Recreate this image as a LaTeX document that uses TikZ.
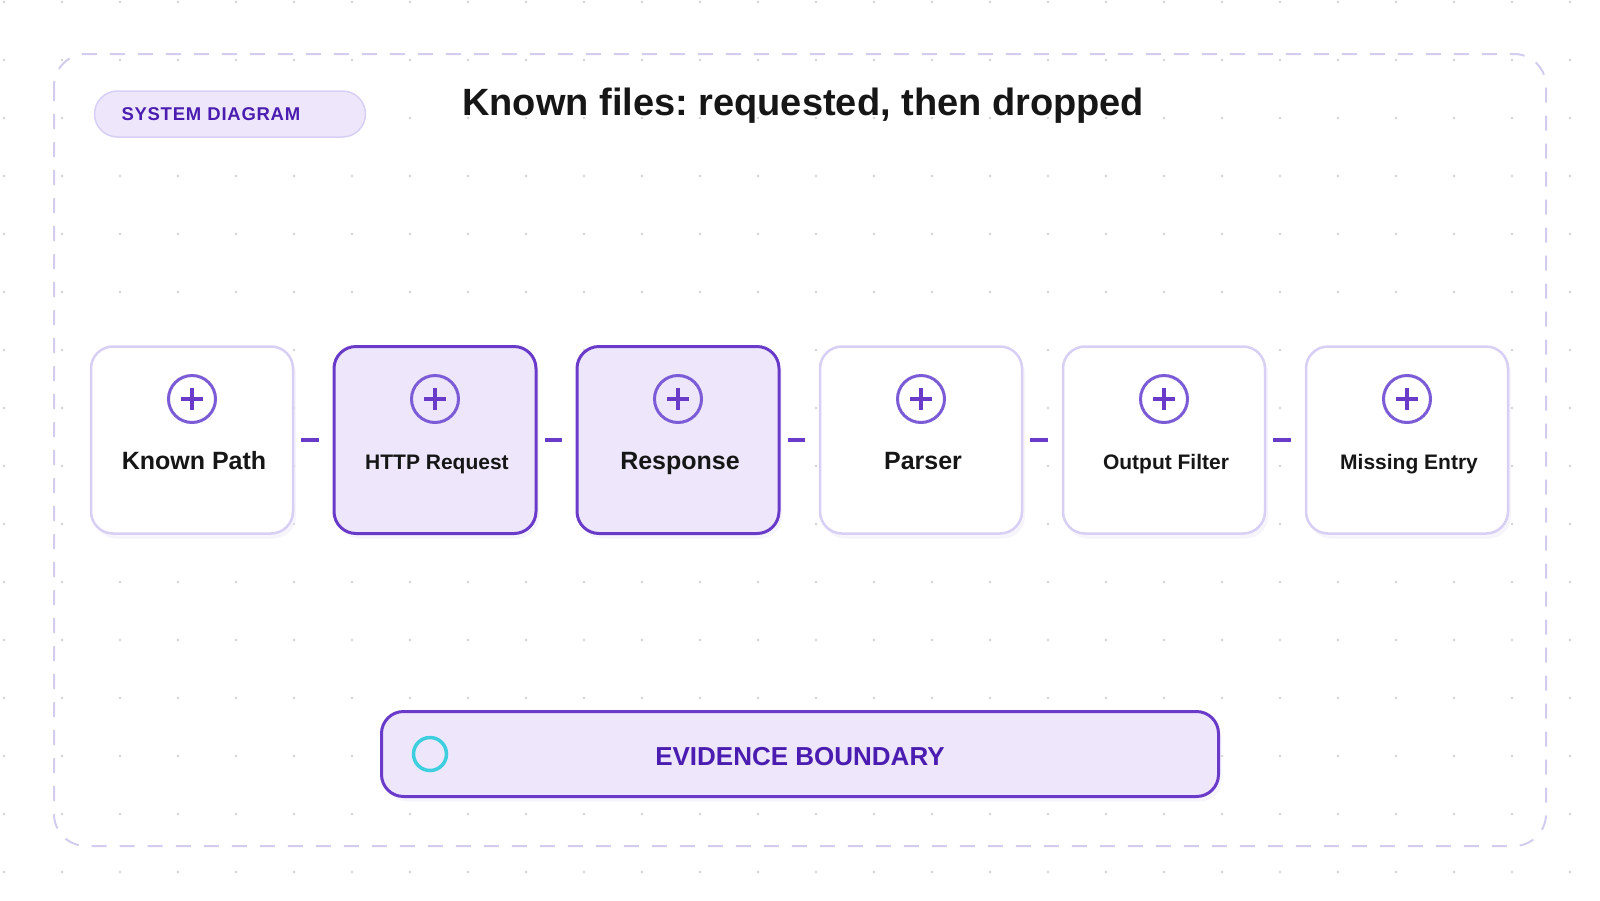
\documentclass[tikz,border=0pt]{standalone}
\usepackage{fontspec}
\setmainfont{Liberation Sans}
\newfontfamily\trackfont[LetterSpace=4]{Liberation Sans}
\usepackage{tikz}
\usetikzlibrary{positioning}
\usetikzlibrary{shadows}
\frenchspacing

\definecolor{accent}{HTML}{6A3BC9}
\definecolor{deeppurple}{HTML}{4A1DB0}
\definecolor{lavfill}{HTML}{EEE7FC}
\definecolor{lavline}{HTML}{D8CFF4}
\definecolor{framec}{HTML}{D3CCEF}
\definecolor{dotc}{HTML}{D2D2D2}
\definecolor{ringc}{HTML}{7C5CD6}
\definecolor{cyanring}{HTML}{3ECFDF}
\definecolor{inkc}{HTML}{161616}
\definecolor{shadowc}{HTML}{ECE8F8}

\tikzset{
  stage/.style={draw=lavline, line width=2.5pt, fill=white, rounded corners=22pt,
    minimum width=202pt, minimum height=187pt,
    drop shadow={shadow xshift=3pt, shadow yshift=-5pt, fill=shadowc, opacity=0.45}},
  hotstage/.style={stage, draw=accent, line width=3pt, fill=lavfill},
  lbl/.style={font=\bfseries\fontsize{25}{30}\selectfont, text=inkc, anchor=base, inner sep=0pt},
  smalllbl/.style={lbl, font=\bfseries\fontsize{21}{25}\selectfont},
  link/.style={draw=accent, line width=4pt, shorten <=7pt, shorten >=14pt},
}

% circled plus above the label of a stage
\newcommand{\plusmark}[1]{%
  \draw[ringc, line width=3pt] ([yshift=41pt]#1.center) circle (23.5pt);
  \draw[accent, line width=3.5pt] ([yshift=41pt,xshift=-11pt]#1.center) -- ([yshift=41pt,xshift=11pt]#1.center);
  \draw[accent, line width=3.5pt] ([yshift=30pt]#1.center) -- ([yshift=52pt]#1.center);
}

\begin{document}
\begin{tikzpicture}[x=1pt,y=-1pt]
\useasboundingbox (0,0) rectangle (1600,900);

% dot grid
\foreach \i in {0,...,27}
  \foreach \j in {0,...,15}
    \fill[dotc] (4+58*\i,2+58*\j) circle (1.3pt);

\draw[framec, line width=2pt, dash pattern=on 15pt off 13pt, rounded corners=32pt]
  (54,54) rectangle (1546,846);

\node[draw=lavline, line width=1.5pt, fill=lavfill, rounded corners=23pt,
  minimum height=46pt, text width=217pt, inner xsep=27pt, align=left,
  text=deeppurple, font=\trackfont\bfseries\fontsize{18.5}{22}\selectfont]
  (badge) at (230,114) {SYSTEM DIAGRAM};

\node[anchor=base west, inner sep=0pt, text=inkc, font=\bfseries\fontsize{38}{44}\selectfont]
  (title) at (462,115) {Known files: requested, then dropped};

% the six stages
\node[stage] (knownpath) at (192,440) {};
\node[hotstage] (httpreq) at (435,440) {};
\node[hotstage] (response) at (678,440) {};
\node[stage] (parser) at (921,440) {};
\node[stage] (outfilter) at (1164,440) {};
\node[stage] (missing) at (1407,440) {};

\node[lbl] (knownpathtxt) at ([yshift=-29pt,xshift=2pt]knownpath.center) {Known Path};
\node[smalllbl] (httpreqtxt) at ([yshift=-29pt,xshift=2pt]httpreq.center) {HTTP Request};
\node[lbl] (responsetxt) at ([yshift=-29pt,xshift=2pt]response.center) {Response};
\node[lbl] (parsertxt) at ([yshift=-29pt,xshift=2pt]parser.center) {Parser};
\node[smalllbl] (outfiltertxt) at ([yshift=-29pt,xshift=2pt]outfilter.center) {Output Filter};
\node[smalllbl] (missingtxt) at ([yshift=-29pt,xshift=2pt]missing.center) {Missing Entry};

\plusmark{knownpath}
\plusmark{httpreq}
\plusmark{response}
\plusmark{parser}
\plusmark{outfilter}
\plusmark{missing}

\draw[link] (knownpath.east) -- (httpreq.west);
\draw[link] (httpreq.east) -- (response.west);
\draw[link] (response.east) -- (parser.west);
\draw[link] (parser.east) -- (outfilter.west);
\draw[link] (outfilter.east) -- (missing.west);

% boundary bar
\node[hotstage, minimum width=837pt, minimum height=85pt, text height=22pt, text depth=0pt,
  text=deeppurple, font=\bfseries\fontsize{26}{30}\selectfont]
  (evidence) at (800,754) {EVIDENCE BOUNDARY};
\draw[cyanring, line width=3.5pt] ([xshift=33pt]evidence.west) ++(17pt,0) circle (16.5pt);

\end{tikzpicture}
\end{document}
